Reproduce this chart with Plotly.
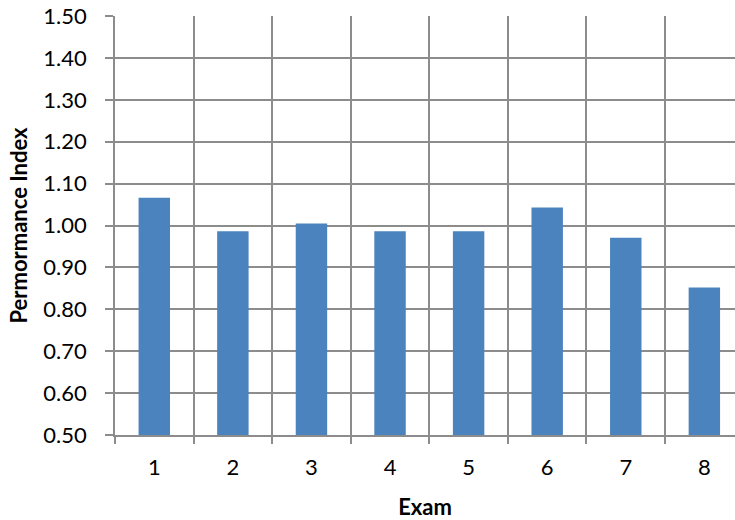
import plotly.graph_objects as go

exams = [1, 2, 3, 4, 5, 6, 7, 8]
performance_index = [1.066, 0.986, 1.005, 0.986, 0.986, 1.043, 0.971, 0.852]
y_ticks = [0.5, 0.6, 0.7, 0.8, 0.9, 1.0, 1.1, 1.2, 1.3, 1.4, 1.5]
axis_base = 0.5

FONT = "Lato"
GRID = "#8c8c8c"

fig = go.Figure(
    go.Bar(
        x=exams,
        y=[v - axis_base for v in performance_index],
        base=axis_base,
        width=0.4,
        marker=dict(color="#4A83BE", line=dict(width=0)),
    )
)

fig.update_layout(
    width=735,
    height=520,
    margin=dict(l=115, r=0, t=16, b=85),
    paper_bgcolor="white",
    plot_bgcolor="white",
    showlegend=False,
    font=dict(family=FONT, size=22, color="black"),
)

fig.update_xaxes(
    type="linear",
    range=[0.5, 8.39],
    tickvals=exams,
    ticktext=[str(e) for e in exams],
    ticks="",
    showgrid=False,
    zeroline=False,
    showline=True,
    linecolor=GRID,
    linewidth=1.5,
    ticklabelstandoff=12,
    automargin=False,
    minor=dict(
        tickvals=[e - 0.5 for e in exams] + [8.5],
        showgrid=True,
        gridcolor=GRID,
        gridwidth=1.5,
        ticks="outside",
        ticklen=7,
        tickcolor=GRID,
        tickwidth=1.5,
    ),
    title=dict(text="<b>Exam</b>", font=dict(family=FONT, size=22), standoff=21),
)

fig.update_yaxes(
    range=[0.5, 1.5],
    tickvals=y_ticks,
    tickformat=".2f",
    ticks="outside",
    ticklen=8,
    tickcolor=GRID,
    tickwidth=1.5,
    showgrid=True,
    gridcolor=GRID,
    gridwidth=1.5,
    zeroline=False,
    showline=True,
    linecolor=GRID,
    linewidth=1.5,
    ticklabelstandoff=14,
    ticklabeloverflow="allow",
    automargin=False,
    title=dict(text="<b>Permormance Index</b>", font=dict(family=FONT, size=22), standoff=10),
)

fig.write_html(
    "out.html",
    config={"displayModeBar": False},
    post_script="document.body.style.margin='0';",
)
